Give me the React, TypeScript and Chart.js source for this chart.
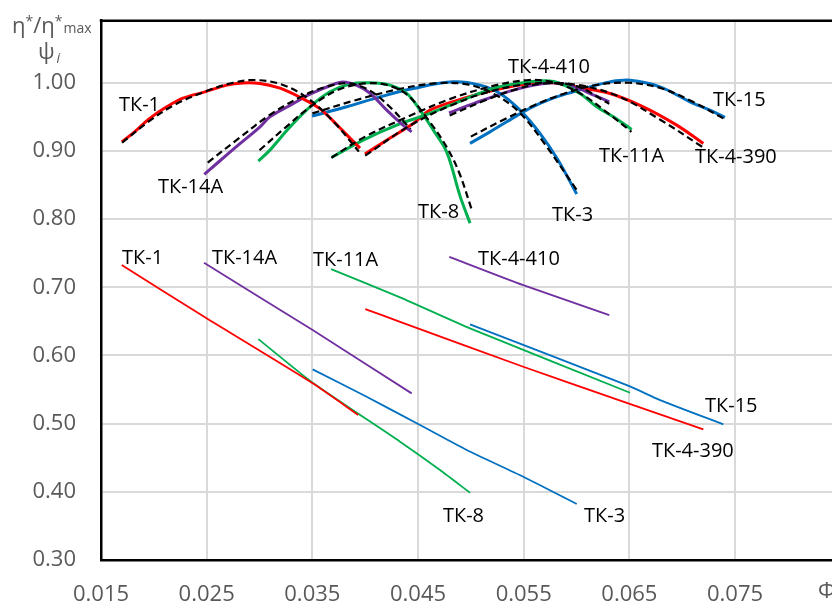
import React, { useEffect, useRef } from 'react';
import { Chart, registerables } from 'chart.js';

Chart.register(...registerables);

type P = [number, number];

// Axis ticks
const X_TICKS = [0.015, 0.025, 0.035, 0.045, 0.055, 0.065, 0.075];
const Y_TICKS = [0.3, 0.4, 0.5, 0.6, 0.7, 0.8, 0.9, 1.0];

// Efficiency curves η*/η*max (measured, solid)
const TK1_ETA: P[] = [[0.01696, 0.9133], [0.01803, 0.9261], [0.01964, 0.9481], [0.02122, 0.9647], [0.02276, 0.9774], [0.02484, 0.9866], [0.0269, 0.9965], [0.02844, 0.9998], [0.03005, 0.999], [0.03194, 0.9921], [0.0338, 0.979], [0.0357, 0.962], [0.0376, 0.934], [0.03875, 0.9158], [0.03951, 0.9041]];
const TK14A_ETA: P[] = [[0.02478, 0.8655], [0.02626, 0.8856], [0.02815, 0.9106], [0.03005, 0.9353], [0.03099, 0.95], [0.03289, 0.9667], [0.03478, 0.9833], [0.03667, 0.9956], [0.0379, 1.001], [0.0392, 0.996], [0.04046, 0.9846], [0.04204, 0.9598], [0.04358, 0.9378], [0.0444, 0.928]];
const TK8_ETA: P[] = [[0.02989, 0.885], [0.03099, 0.9012], [0.03194, 0.9183], [0.03289, 0.9353], [0.03478, 0.9647], [0.03667, 0.9867], [0.03856, 0.998], [0.04046, 0.9999], [0.04235, 0.9965], [0.04393, 0.9843], [0.04519, 0.9598], [0.04645, 0.9305], [0.04772, 0.8982], [0.04898, 0.8337], [0.04992, 0.7941]];
const TK11A_ETA: P[] = [[0.03683, 0.8905], [0.03982, 0.9158], [0.04298, 0.9378], [0.04613, 0.955], [0.04929, 0.975], [0.05245, 0.9931], [0.0556, 1.0013], [0.05718, 1.0028], [0.05844, 0.999], [0.06033, 0.9843], [0.06191, 0.9647], [0.06348, 0.95], [0.06522, 0.9315]];
const TK3_ETA: P[] = [[0.03497, 0.951], [0.03825, 0.9647], [0.0414, 0.9793], [0.04455, 0.9916], [0.04834, 1.0013], [0.05086, 0.9965], [0.05276, 0.9843], [0.05465, 0.9598], [0.05654, 0.9257], [0.05825, 0.8866], [0.06002, 0.8367]];
const TK4410_ETA: P[] = [[0.04793, 0.9559], [0.0503, 0.9697], [0.05346, 0.9867], [0.05598, 0.9965], [0.05787, 1.0], [0.05976, 0.994], [0.06164, 0.9818], [0.0631, 0.972]];
const TK4390_ETA: P[] = [[0.03998, 0.8953], [0.04203, 0.9158], [0.04455, 0.9403], [0.04613, 0.9598], [0.04929, 0.977], [0.05245, 0.9902], [0.0556, 0.999], [0.05777, 1.0], [0.05995, 0.994], [0.06317, 0.9843], [0.06632, 0.9647], [0.06948, 0.9378], [0.072, 0.911]];
const TK15_ETA: P[] = [[0.04992, 0.911], [0.05181, 0.928], [0.05339, 0.9427], [0.05496, 0.9573], [0.05654, 0.9697], [0.05812, 0.9793], [0.0597, 0.9867], [0.06128, 0.994], [0.06317, 1.0013], [0.06506, 1.0037], [0.0679, 0.994], [0.07074, 0.972], [0.07263, 0.9598], [0.07405, 0.9491]];

// Efficiency approximations (dashed)
const TK1_FIT: P[] = [[0.017, 0.912], [0.0195, 0.943], [0.022, 0.968], [0.025, 0.988], [0.0275, 1.0], [0.0295, 1.004], [0.032, 0.998], [0.0345, 0.978], [0.037, 0.943], [0.0394, 0.899]];
const TK14A_FIT: P[] = [[0.0251, 0.883], [0.028, 0.918], [0.031, 0.953], [0.034, 0.98], [0.0365, 0.995], [0.0385, 0.999], [0.0405, 0.988], [0.0425, 0.962], [0.0443, 0.932]];
const TK8_FIT: P[] = [[0.03, 0.901], [0.0325, 0.935], [0.035, 0.967], [0.0375, 0.99], [0.04, 0.999], [0.042, 0.997], [0.044, 0.982], [0.046, 0.945], [0.0477, 0.906], [0.0489, 0.868], [0.0501, 0.813]];
const TK11A_FIT: P[] = [[0.0368, 0.89], [0.04, 0.921], [0.044, 0.95], [0.048, 0.976], [0.052, 0.995], [0.0555, 1.004], [0.058, 1.0], [0.0605, 0.983], [0.063, 0.955], [0.0652, 0.928]];
const TK3_FIT: P[] = [[0.035, 0.955], [0.039, 0.974], [0.043, 0.99], [0.0465, 0.999], [0.0495, 0.998], [0.052, 0.985], [0.0545, 0.958], [0.057, 0.91], [0.06, 0.843]];
const TK4410_FIT: P[] = [[0.048, 0.952], [0.051, 0.972], [0.054, 0.989], [0.057, 0.999], [0.06, 0.995], [0.0631, 0.969]];
const TK4390_FIT: P[] = [[0.04, 0.893], [0.044, 0.935], [0.048, 0.966], [0.052, 0.988], [0.056, 0.999], [0.06, 0.997], [0.064, 0.98], [0.068, 0.945], [0.072, 0.905]];
const TK15_FIT: P[] = [[0.05, 0.921], [0.053, 0.945], [0.056, 0.967], [0.059, 0.985], [0.062, 0.997], [0.065, 1.0], [0.068, 0.992], [0.071, 0.972], [0.0741, 0.946]];

// Head coefficient ψi
const TK1_PSI: P[] = [[0.01696, 0.7326], [0.02484, 0.6559], [0.03503, 0.5591], [0.03935, 0.5126]];
const TK14A_PSI: P[] = [[0.02475, 0.7359], [0.03503, 0.6372], [0.0444, 0.5444]];
const TK8_PSI: P[] = [[0.02989, 0.624], [0.03503, 0.56], [0.0433, 0.4735], [0.04708, 0.432], [0.04992, 0.3987]];
const TK11A_PSI: P[] = [[0.03677, 0.7267], [0.0433, 0.6852], [0.04992, 0.6397], [0.06506, 0.5453]];
const TK3_PSI: P[] = [[0.03503, 0.5796], [0.04014, 0.5394], [0.04519, 0.4979], [0.04961, 0.4613], [0.05496, 0.4221], [0.06002, 0.3821]];
const TK4410_PSI: P[] = [[0.04796, 0.7447], [0.05496, 0.7032], [0.0631, 0.6592]];
const TK4390_PSI: P[] = [[0.04001, 0.668], [0.0433, 0.6494], [0.05496, 0.5834], [0.0638, 0.5356], [0.072, 0.4916]];
const TK15_PSI: P[] = [[0.04992, 0.6456], [0.065, 0.5549], [0.0679, 0.5346], [0.07389, 0.499]];

// Curve name labels (anchored in data units: left edge, vertical middle)
const CURVE_LABELS: { text: string; x: number; y: number }[] = [
  { text: 'ТК-1', x: 0.0167, y: 0.9686 },
  { text: 'ТК-14А', x: 0.02039, y: 0.8491 },
  { text: 'ТК-8', x: 0.045, y: 0.8117 },
  { text: 'ТК-3', x: 0.05768, y: 0.8073 },
  { text: 'ТК-4-410', x: 0.05352, y: 1.0243 },
  { text: 'ТК-15', x: 0.07292, y: 0.9767 },
  { text: 'ТК-11А', x: 0.06213, y: 0.8938 },
  { text: 'ТК-4-390', x: 0.07121, y: 0.8924 },
  { text: 'ТК-1', x: 0.01699, y: 0.7447 },
  { text: 'ТК-14А', x: 0.0255, y: 0.7447 },
  { text: 'ТК-11А', x: 0.03506, y: 0.7413 },
  { text: 'ТК-4-410', x: 0.05068, y: 0.7428 },
  { text: 'ТК-15', x: 0.07216, y: 0.5273 },
  { text: 'ТК-4-390', x: 0.06714, y: 0.4613 },
  { text: 'ТК-8', x: 0.04736, y: 0.366 },
  { text: 'ТК-3', x: 0.06071, y: 0.366 },
];

const RED = '#FF0000';
const PURPLE = '#7030A0';
const GREEN = '#00B050';
const BLUE = '#0070C0';
const FONT = '"Open Sans", "Liberation Sans", sans-serif';

const pts = (a: P[]) => a.map(([x, y]) => ({ x, y }));

export default function App() {
  const ref = useRef<HTMLCanvasElement>(null);

  useEffect(() => {
    if (!ref.current) return;
    const solid = (a: P[], color: string, width: number) => ({
      data: pts(a),
      borderColor: color,
      backgroundColor: color,
      borderWidth: width,
      showLine: true,
      pointRadius: 0,
      pointHoverRadius: 0,
      fill: false,
      tension: 0.35,
      order: 2,
    });
    const dashed = (a: P[]) => ({
      data: pts(a),
      borderColor: '#000000',
      backgroundColor: '#000000',
      borderWidth: 2.2,
      borderDash: [7, 4],
      showLine: true,
      pointRadius: 0,
      pointHoverRadius: 0,
      fill: false,
      tension: 0.35,
      order: 1,
    });
    const straight = (a: P[], color: string) => ({
      data: pts(a),
      borderColor: color,
      backgroundColor: color,
      borderWidth: 1.8,
      showLine: true,
      pointRadius: 0,
      pointHoverRadius: 0,
      fill: false,
      tension: 0.2,
      order: 2,
    });

    const overlay = {
      id: 'overlay',
      afterDraw(chart: any) {
        const { ctx, chartArea, scales } = chart;
        const xs = scales.x;
        const ys = scales.y;
        ctx.save();
        // top border of plot area
        ctx.strokeStyle = '#000';
        ctx.lineWidth = 2.5;
        ctx.beginPath();
        ctx.moveTo(chartArea.left - 1.25, chartArea.top);
        ctx.lineTo(chartArea.right + 2, chartArea.top);
        ctx.stroke();

        // curve labels
        ctx.fillStyle = '#000';
        ctx.font = `20px ${FONT}`;
        ctx.textAlign = 'left';
        ctx.textBaseline = 'alphabetic';
        for (const l of CURVE_LABELS) {
          ctx.fillText(l.text, xs.getPixelForValue(l.x), ys.getPixelForValue(l.y) + 7);
        }

        // y-axis title
        ctx.fillStyle = '#595959';
        let x = 12;
        const big = `22px ${FONT}`;
        const small = `14px ${FONT}`;
        const put = (t: string, font: string, y: number) => {
          ctx.font = font;
          ctx.fillText(t, x, y);
          x += ctx.measureText(t).width;
        };
        put('η', big, 33);
        put('*', small, 26);
        put('/', big, 33);
        put('η', big, 33);
        put('*', small, 26);
        x += 1;
        put('max', small, 33);
        x = 38;
        put('ψ', big, 59);
        x += 2;
        put('i', `italic 14px ${FONT}`, 63);

        // x-axis title
        ctx.font = big;
        ctx.fillText('Φ', 818, 598);
        ctx.restore();
      },
    };

    const chart = new Chart(ref.current, {
      type: 'scatter',
      data: {
        datasets: [
          dashed(TK1_FIT), dashed(TK14A_FIT), dashed(TK8_FIT), dashed(TK11A_FIT),
          dashed(TK3_FIT), dashed(TK4410_FIT), dashed(TK4390_FIT), dashed(TK15_FIT),
          solid(TK1_ETA, RED, 3), solid(TK14A_ETA, PURPLE, 3), solid(TK8_ETA, GREEN, 3), solid(TK11A_ETA, GREEN, 3),
          solid(TK3_ETA, BLUE, 3), solid(TK4410_ETA, PURPLE, 3), solid(TK4390_ETA, RED, 3), solid(TK15_ETA, BLUE, 3),
          straight(TK1_PSI, RED), straight(TK14A_PSI, PURPLE), straight(TK8_PSI, GREEN), straight(TK11A_PSI, GREEN),
          straight(TK3_PSI, BLUE), straight(TK4410_PSI, PURPLE), straight(TK4390_PSI, RED), straight(TK15_PSI, BLUE),
        ] as any,
      },
      options: {
        responsive: false,
        animation: false,
        devicePixelRatio: 1,
        events: [],
        layout: { padding: { left: 0, top: 20.7, right: 59.3, bottom: 20 } },
        plugins: { legend: { display: false }, tooltip: { enabled: false } },
        scales: {
          x: {
            type: 'linear',
            min: 0.015,
            max: 0.085,
            afterBuildTicks: (axis: any) => { axis.ticks = X_TICKS.map((v) => ({ value: v })); },
            afterFit: (axis: any) => {
              axis.height = 60;
              axis.paddingLeft = 0; axis.paddingRight = 0; axis.paddingTop = 0; axis.paddingBottom = 0;
            },
            ticks: {
              callback: (v: any) => Number(v).toFixed(3),
              font: { size: 22, family: FONT },
              color: '#595959',
              padding: 22,
              maxRotation: 0,
              autoSkip: false,
            },
            grid: { color: '#D9D9D9', lineWidth: 2, drawTicks: false },
            border: { color: '#000', width: 2.5 },
          },
          y: {
            type: 'linear',
            min: 0.3,
            max: 1.091,
            afterBuildTicks: (axis: any) => { axis.ticks = Y_TICKS.map((v) => ({ value: v })); },
            afterFit: (axis: any) => {
              axis.width = 101;
              axis.paddingLeft = 0; axis.paddingRight = 0; axis.paddingTop = 0; axis.paddingBottom = 0;
            },
            ticks: {
              callback: (v: any) => Number(v).toFixed(2),
              font: { size: 22, family: FONT },
              color: '#595959',
              padding: 25,
              autoSkip: false,
            },
            grid: { color: '#D9D9D9', lineWidth: 2, drawTicks: false },
            border: { color: '#000', width: 2.5 },
          },
        },
      } as any,
      plugins: [overlay],
    });
    return () => chart.destroy();
  }, []);

  return (
    <div style={{ position: 'fixed', left: 0, top: 0, width: 832, height: 603, overflow: 'hidden', background: '#fff' }}>
      <canvas ref={ref} width={900} height={640} style={{ display: 'block', width: 900, height: 640 }} />
    </div>
  );
}
